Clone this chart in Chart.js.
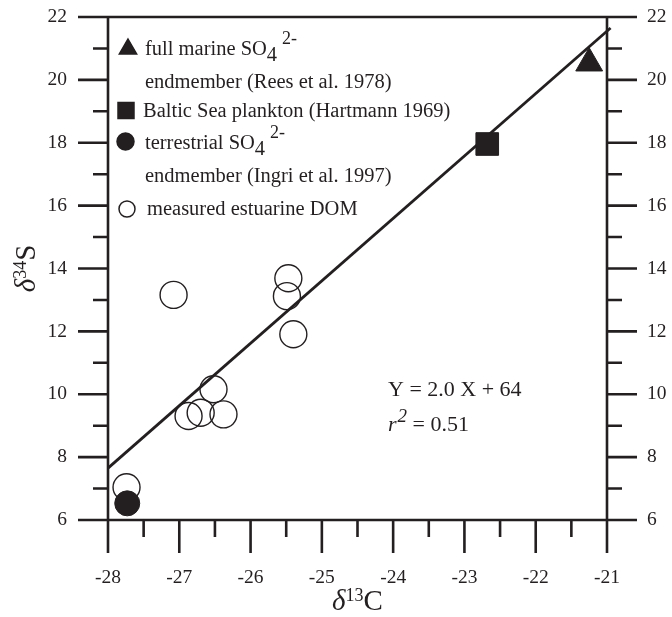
<!DOCTYPE html>
<html><head><meta charset="utf-8">
<script src="https://cdn.jsdelivr.net/npm/chart.js@4"></script>
<style>html,body{margin:0;padding:0;background:#fff;}canvas{display:block}</style>
</head><body>
<canvas id="c" width="672" height="617"></canvas>
<script>
// ---- data ----
const domX = [-27.08, -25.47, -25.49, -25.40, -26.52, -26.87, -26.70, -26.38, -27.74];
const domY = [13.16, 13.69, 13.12, 11.91, 10.16, 9.31, 9.41, 9.36, 7.04];
const marineX = [-21.25];
const marineY = [20.53];
const balticX = [-22.68];
const balticY = [17.96];
const terrX = [-27.73];
const terrY = [6.53];
const fitX = [-28, -20.95];
const fitY = [7.65, 21.65];
const xTickLabels = ['-28', '-27', '-26', '-25', '-24', '-23', '-22', '-21'];
const xMinorTicks = [-27.5, -26.5, -25.5, -24.5, -23.5, -22.5, -21.5];
const yTickLabels = ['6', '8', '10', '12', '14', '16', '18', '20', '22'];
const yMinorTicks = [7, 9, 11, 13, 15, 17, 19, 21];
const legendLabels = ['full marine SO', 'endmember (Rees et al. 1978)', 'Baltic Sea plankton (Hartmann 1969)', 'terrestrial SO', 'endmember (Ingri et al. 1997)', 'measured estuarine DOM'];

const INK = '#231f20';
const SERIF = '"Liberation Serif", "Times New Roman", serif';
const pts = (xs, ys) => xs.map((x, i) => ({x, y: ys[i]}));

function drawRich(ctx, x, y, segs, align) {
  let w = 0;
  segs.forEach(s => { ctx.font = (s.style || '') + ' ' + s.size + 'px ' + SERIF; s.w = ctx.measureText(s.t).width + (s.gap || 0) + (s.pre || 0); w += s.w; });
  let cx = align === 'center' ? x - w / 2 : (align === 'right' ? x - w : x);
  segs.forEach(s => { ctx.font = (s.style || '') + ' ' + s.size + 'px ' + SERIF; ctx.fillText(s.t, cx + (s.pre || 0), y + (s.dy || 0)); cx += s.w; });
}

const framePlugin = {
  id: 'frame',
  beforeDatasetsDraw(chart) {
    const ctx = chart.ctx, xs = chart.scales.x, ys = chart.scales.y;
    const {left, right, top, bottom} = chart.chartArea;
    ctx.save();
    ctx.strokeStyle = INK; ctx.lineWidth = 2.6; ctx.lineCap = 'butt';
    ctx.beginPath();
    ctx.moveTo(left, top); ctx.lineTo(right, top);
    ctx.moveTo(left, bottom); ctx.lineTo(right, bottom);
    ctx.moveTo(left, top - 1.3); ctx.lineTo(left, bottom);
    ctx.moveTo(right, top - 1.3); ctx.lineTo(right, bottom);
    yTickLabels.forEach(l => { const p = ys.getPixelForValue(Number(l)); ctx.moveTo(left - 30, p); ctx.lineTo(left, p); ctx.moveTo(right, p); ctx.lineTo(right + 30, p); });
    yMinorTicks.forEach(v => { const p = ys.getPixelForValue(v); ctx.moveTo(left - 15, p); ctx.lineTo(left, p); ctx.moveTo(right, p); ctx.lineTo(right + 15, p); });
    xTickLabels.forEach(l => { const p = xs.getPixelForValue(Number(l)); ctx.moveTo(p, bottom); ctx.lineTo(p, bottom + 33); });
    xMinorTicks.forEach(v => { const p = xs.getPixelForValue(v); ctx.moveTo(p, bottom); ctx.lineTo(p, bottom + 17); });
    ctx.stroke();
    ctx.restore();
  },
  afterDraw(chart) {
    const ctx = chart.ctx, xs = chart.scales.x, ys = chart.scales.y;
    const {left, right, top, bottom} = chart.chartArea;
    ctx.save();
    ctx.fillStyle = INK;
    ctx.font = '19.5px ' + SERIF;
    ctx.textBaseline = 'middle';
    ctx.textAlign = 'right';
    yTickLabels.forEach(l => ctx.fillText(l, left - 41, ys.getPixelForValue(Number(l))));
    ctx.textAlign = 'left';
    yTickLabels.forEach(l => ctx.fillText(l, right + 40, ys.getPixelForValue(Number(l))));
    ctx.textAlign = 'center';
    xTickLabels.forEach(l => ctx.fillText(l, xs.getPixelForValue(Number(l)), bottom + 58));
    ctx.textAlign = 'left';
    ctx.textBaseline = 'alphabetic';
    // axis titles
    drawRich(ctx, (left + right) / 2, 610, [
      {t: 'δ', size: 29, style: 'italic'}, {t: '13', size: 18, dy: -9}, {t: 'C', size: 29}], 'center');
    ctx.save();
    ctx.translate(35, (top + bottom) / 2);
    ctx.rotate(-Math.PI / 2);
    drawRich(ctx, 0, 0, [
      {t: 'δ', size: 29, style: 'italic'}, {t: '34', size: 18, dy: -9}, {t: 'S', size: 29}], 'center');
    ctx.restore();
    // legend
    const tx = 145, fs = 20.5;
    const base = [55, 88, 117, 149, 182, 215];
    drawRich(ctx, tx, base[0], [{t: legendLabels[0], size: fs}, {t: '4', size: fs, dy: 6}, {t: '2-', size: 18, dy: -11, pre: 5}]);
    drawRich(ctx, tx, base[1], [{t: legendLabels[1], size: fs}]);
    drawRich(ctx, tx - 2, base[2], [{t: legendLabels[2], size: fs}]);
    drawRich(ctx, tx, base[3], [{t: legendLabels[3], size: fs}, {t: '4', size: fs, dy: 6}, {t: '2-', size: 18, dy: -11, pre: 5}]);
    drawRich(ctx, tx, base[4], [{t: legendLabels[4], size: fs}]);
    drawRich(ctx, tx + 2, base[5], [{t: legendLabels[5], size: fs}]);
    const H = Chart.helpers;
    ctx.strokeStyle = INK; ctx.lineWidth = 1.5;
    H.drawPoint(ctx, {pointStyle: 'triangle', radius: 10, borderWidth: 1}, 128, 49);
    ctx.fill();
    H.drawPoint(ctx, {pointStyle: 'rect', radius: 11.3, borderWidth: 1}, 126, 110.5);
    ctx.fill();
    H.drawPoint(ctx, {pointStyle: 'circle', radius: 8.5, borderWidth: 1}, 125.5, 141.5);
    ctx.fill();
    ctx.beginPath(); ctx.arc(127, 209, 8, 0, Math.PI * 2); ctx.stroke();
    // equation
    drawRich(ctx, 388, 396, [{t: 'Y = 2.0 X + 64', size: 22}]);
    drawRich(ctx, 388, 431, [{t: 'r', size: 22, style: 'italic'}, {t: '2', size: 19, style: 'italic', dy: -9, pre: 1}, {t: ' = 0.51', size: 22}]);
    ctx.restore();
  }
};

new Chart(document.getElementById('c'), {
  type: 'scatter',
  data: {
    datasets: [
      {label: 'fit', type: 'line', data: pts(fitX, fitY), borderColor: INK, borderWidth: 2.8, pointRadius: 0, fill: false, showLine: true, clip: false, order: 10},
      {label: 'measured estuarine DOM', data: pts(domX, domY), pointStyle: 'circle', pointRadius: 13.5, borderColor: INK, borderWidth: 1.4, backgroundColor: 'rgba(0,0,0,0)', clip: false, order: 5},
      {label: 'terrestrial', data: pts(terrX, terrY), pointStyle: 'circle', pointRadius: 12.5, borderColor: INK, borderWidth: 1, backgroundColor: INK, clip: false, order: 1},
      {label: 'Baltic', data: pts(balticX, balticY), pointStyle: 'rect', pointRadius: 16, borderColor: INK, borderWidth: 1, backgroundColor: INK, clip: false, order: 1},
      {label: 'marine', data: pts(marineX, marineY), pointStyle: 'triangle', pointRadius: 15.5, borderColor: INK, borderWidth: 1, backgroundColor: INK, clip: false, order: 1}
    ]
  },
  options: {
    responsive: false,
    devicePixelRatio: 1,
    animation: false,
    layout: {padding: {left: 108, right: 65, top: 17, bottom: 97}},
    plugins: {legend: {display: false}, tooltip: {enabled: false}},
    scales: {
      x: {type: 'linear', min: -28, max: -21, display: false},
      y: {type: 'linear', min: 6, max: 22, display: false}
    }
  },
  plugins: [framePlugin]
});
</script>
</body></html>
